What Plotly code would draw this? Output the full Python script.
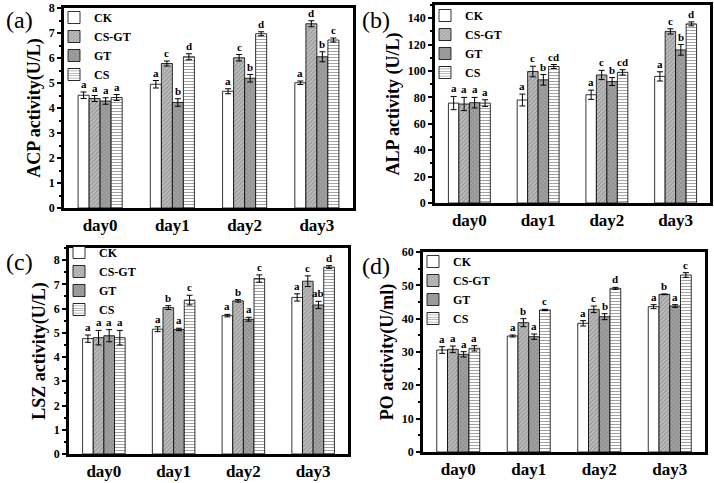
import plotly.graph_objects as go

days = ["day0", "day1", "day2", "day3"]
groups = ["CK", "CS-GT", "GT", "CS"]

acp = {"CK": [4.51, 4.95, 4.67, 5.01], "CS-GT": [4.38, 5.78, 6.01, 7.37],
       "GT": [4.28, 4.22, 5.19, 6.05], "CS": [4.42, 6.05, 6.97, 6.72]}
acp_err = {"CK": [0.13, 0.15, 0.1, 0.07], "CS-GT": [0.12, 0.1, 0.13, 0.12],
           "GT": [0.13, 0.15, 0.15, 0.2], "CS": [0.12, 0.12, 0.08, 0.08]}
acp_sig = {"CK": ["a", "a", "a", "a"], "CS-GT": ["a", "c", "c", "d"],
           "GT": ["a", "b", "b", "b"], "CS": ["a", "d", "d", "c"]}

alp = {"CK": [75.7, 78.0, 82.0, 95.9], "CS-GT": [75.0, 99.6, 97.0, 130.0],
       "GT": [76.0, 93.3, 92.0, 116.0], "CS": [75.7, 103.4, 99.0, 135.7]}
alp_err = {"CK": [5, 4.5, 3.5, 3.5], "CS-GT": [5, 4, 3.5, 2],
           "GT": [4, 4, 3, 4], "CS": [2.5, 1.5, 2, 1.5]}
alp_sig = {"CK": ["a", "a", "a", "a"], "CS-GT": ["a", "c", "c", "c"],
           "GT": ["a", "b", "b", "b"], "CS": ["a", "cd", "cd", "d"]}

lsz = {"CK": [4.76, 5.15, 5.71, 6.46], "CS-GT": [4.80, 6.04, 6.32, 7.13],
       "GT": [4.88, 5.14, 5.56, 6.15], "CS": [4.80, 6.35, 7.24, 7.71]}
lsz_err = {"CK": [0.15, 0.1, 0.05, 0.15], "CS-GT": [0.3, 0.08, 0.05, 0.22],
           "GT": [0.25, 0.05, 0.08, 0.15], "CS": [0.3, 0.2, 0.15, 0.06]}
lsz_sig = {"CK": ["a", "a", "a", "a"], "CS-GT": ["a", "b", "b", "c"],
           "GT": ["a", "a", "a", "ab"], "CS": ["a", "c", "c", "d"]}

po = {"CK": [30.6, 34.8, 38.6, 43.6], "CS-GT": [30.8, 38.8, 42.8, 47.3],
      "GT": [29.3, 34.6, 40.6, 43.8], "CS": [31.1, 42.6, 49.1, 53.1]}
po_err = {"CK": [1.0, 0.3, 0.8, 0.6], "CS-GT": [1.0, 1.2, 1.0, 0.1],
          "GT": [0.8, 0.8, 0.9, 0.4], "CS": [0.8, 0.2, 0.3, 0.7]}
po_sig = {"CK": ["a", "a", "a", "a"], "CS-GT": ["a", "b", "c", "b"],
          "GT": ["a", "a", "b", "a"], "CS": ["a", "c", "d", "c"]}

W, H = 714, 483
FONT = "Liberation Serif"

def px_dom_x(a, b):
    return [a / W, b / W]

def px_dom_y(top, bot):
    return [(H - bot) / H, (H - top) / H]

panels = [
    dict(vals=acp, err=acp_err, sig=acp_sig, title="ACP activity(U/L)", yr=[0, 8], dt=1,
         xd=px_dom_x(64, 353), yd=px_dom_y(8, 208), letter="(a)", lx=4, ly=20, lgtop=3),
    dict(vals=alp, err=alp_err, sig=alp_sig, title="ALP activity (U/L)", yr=[0, 150], dt=20,
         xd=px_dom_x(435, 710), yd=px_dom_y(5, 203), letter="(b)", lx=360, ly=20, lgtop=1),
    dict(vals=lsz, err=lsz_err, sig=lsz_sig, title="LSZ activity(U/L)", yr=[0, 8.5], dt=1,
         xd=px_dom_x(69, 348), yd=px_dom_y(248, 454), letter="(c)", lx=4, ly=262, lgtop=238),
    dict(vals=po, err=po_err, sig=po_sig, title="PO activity(U/ml)", yr=[0, 60], dt=10,
         xd=px_dom_x(423, 705), yd=px_dom_y(252, 452), letter="(d)", lx=360, ly=266, lgtop=247),
]

patterns = {
    "CK": dict(shape="", bgcolor="white"),
    "CS-GT": dict(shape="/", bgcolor="#bdbdbd", fgcolor="#5a5a5a", size=3, solidity=0.3),
    "GT": dict(shape="x", bgcolor="#a2a2a2", fgcolor="#555555", size=3, solidity=0.3),
    "CS": dict(shape="-", bgcolor="white", fgcolor="#333333", size=3, solidity=0.3),
}

bargap = 0.39
nb = len(groups)
bw = (1 - bargap) / nb

fig = go.Figure()
layout = dict(width=W, height=H, margin=dict(l=0, r=0, t=0, b=0, autoexpand=False),
              plot_bgcolor="white", paper_bgcolor="white", barmode="group",
              bargap=bargap, bargroupgap=0, showlegend=True)
annotations = []

for p_i, p in enumerate(panels):
    k = "" if p_i == 0 else str(p_i + 1)
    xa, ya = "x" + k, "y" + k
    lg = "legend" + k
    for g_i, g in enumerate(groups):
        pat = patterns[g]
        fig.add_trace(go.Bar(
            x=days, y=p["vals"][g], name=g, xaxis=xa, yaxis=ya, legend=lg,
            offsetgroup=g,
            marker=dict(color=pat.get("bgcolor", "white"), pattern=pat,
                        line=dict(color="black", width=0.8)),
            error_y=dict(type="data", array=p["err"][g], color="black", thickness=1, width=3),
        ))
        off = -0.5 * (1 - bargap) + bw * (g_i + 0.5)
        for d_i in range(len(days)):
            annotations.append(dict(
                x=d_i + off, y=p["vals"][g][d_i] + p["err"][g][d_i], xref=xa, yref=ya,
                text=p["sig"][g][d_i], showarrow=False,
                yanchor="bottom", yshift=0,
                font=dict(family=FONT, size=11, color="black", weight="bold")))
    axis_common = dict(showline=True, linecolor="black", linewidth=2.5, mirror=True,
                       showgrid=False, zeroline=False)
    layout["xaxis" + k] = dict(domain=p["xd"], anchor=ya, range=[-0.5, 3.5],
                               ticks="", tickfont=dict(family=FONT, size=17, color="black",
                                                       weight="bold"),
                               **axis_common)
    layout["yaxis" + k] = dict(domain=p["yd"], anchor=xa, range=p["yr"], dtick=p["dt"],
                               ticks="outside", ticklen=4, tickwidth=2, tickcolor="black",
                               tickfont=dict(family=FONT, size=12, color="black", weight="bold"),
                               minor=dict(ticks="outside", ticklen=2, tickwidth=1.5,
                                          tickcolor="black", dtick=p["dt"] / 2),
                               title=dict(text=p["title"],
                                          font=dict(family=FONT, size=18, color="black",
                                                    weight="bold"),
                                          standoff=4),
                               **axis_common)
    layout[lg] = dict(x=p["xd"][0] - 10 / W, y=1 - p["lgtop"] / H, xanchor="left", yanchor="top",
                      bgcolor="rgba(0,0,0,0)", borderwidth=0, tracegroupgap=0,
                      font=dict(family=FONT, size=12, color="black", weight="bold"),
                      itemwidth=30, traceorder="normal")
    annotations.append(dict(x=p["lx"] / W, y=1 - p["ly"] / H, xref="paper", yref="paper",
                            text=p["letter"], showarrow=False, xanchor="left", yanchor="middle",
                            font=dict(family=FONT, size=24, color="black")))

layout["annotations"] = annotations
fig.update_layout(**layout)
fig.write_html("out.html", config={"displayModeBar": False},
               post_script="document.body.style.margin='0';")
